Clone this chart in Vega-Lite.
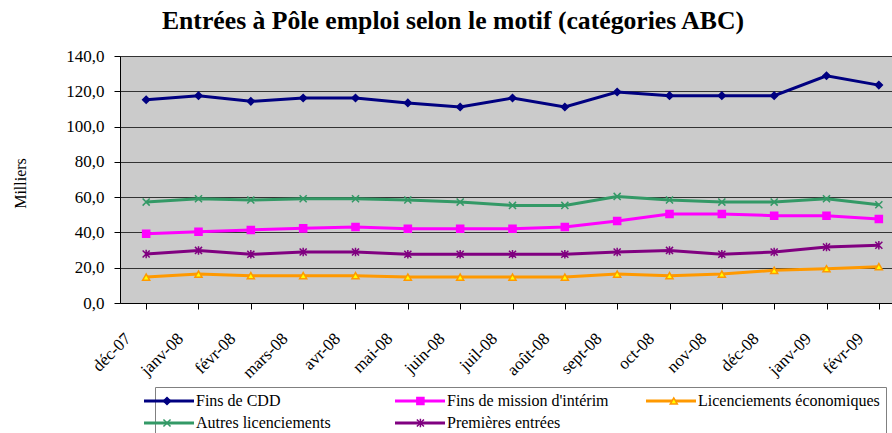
{
  "$schema": "https://vega.github.io/schema/vega-lite/v6.json",
  "autosize": {"type": "none"},
  "width": 772,
  "height": 247,
  "padding": {"left": 120, "top": 56, "right": 0, "bottom": 130},
  "background": "white",
  "title": {
    "text": "Entrées à Pôle emploi selon le motif (catégories ABC)",
    "font": "Liberation Serif",
    "fontSize": 25.7,
    "fontWeight": "bold",
    "color": "black",
    "anchor": "middle",
    "dx": -53,
    "baseline": "alphabetic",
    "offset": -8
  },
  "config": {
    "view": {"fill": "#cbcbcb", "stroke": "#808080", "strokeWidth": 1}
  },
  "data": {
    "values": [
      {"mois": "déc-07", "motif": "Fins de CDD", "symbole": "Fins de CDD", "milliers": 115.2},
      {"mois": "janv-08", "motif": "Fins de CDD", "symbole": "Fins de CDD", "milliers": 117.5},
      {"mois": "févr-08", "motif": "Fins de CDD", "symbole": "Fins de CDD", "milliers": 114.3},
      {"mois": "mars-08", "motif": "Fins de CDD", "symbole": "Fins de CDD", "milliers": 116.2},
      {"mois": "avr-08", "motif": "Fins de CDD", "symbole": "Fins de CDD", "milliers": 116.2},
      {"mois": "mai-08", "motif": "Fins de CDD", "symbole": "Fins de CDD", "milliers": 113.4},
      {"mois": "juin-08", "motif": "Fins de CDD", "symbole": "Fins de CDD", "milliers": 111.1},
      {"mois": "juil-08", "motif": "Fins de CDD", "symbole": "Fins de CDD", "milliers": 116.2},
      {"mois": "août-08", "motif": "Fins de CDD", "symbole": "Fins de CDD", "milliers": 111.1},
      {"mois": "sept-08", "motif": "Fins de CDD", "symbole": "Fins de CDD", "milliers": 119.6},
      {"mois": "oct-08", "motif": "Fins de CDD", "symbole": "Fins de CDD", "milliers": 117.5},
      {"mois": "nov-08", "motif": "Fins de CDD", "symbole": "Fins de CDD", "milliers": 117.5},
      {"mois": "déc-08", "motif": "Fins de CDD", "symbole": "Fins de CDD", "milliers": 117.5},
      {"mois": "janv-09", "motif": "Fins de CDD", "symbole": "Fins de CDD", "milliers": 128.8},
      {"mois": "févr-09", "motif": "Fins de CDD", "symbole": "Fins de CDD", "milliers": 123.5},
      {"mois": "déc-07", "motif": "Fins de mission d'intérim", "symbole": "Fins de mission d'intérim", "milliers": 39.3},
      {"mois": "janv-08", "motif": "Fins de mission d'intérim", "symbole": "Fins de mission d'intérim", "milliers": 40.4},
      {"mois": "févr-08", "motif": "Fins de mission d'intérim", "symbole": "Fins de mission d'intérim", "milliers": 41.4},
      {"mois": "mars-08", "motif": "Fins de mission d'intérim", "symbole": "Fins de mission d'intérim", "milliers": 42.3},
      {"mois": "avr-08", "motif": "Fins de mission d'intérim", "symbole": "Fins de mission d'intérim", "milliers": 43.1},
      {"mois": "mai-08", "motif": "Fins de mission d'intérim", "symbole": "Fins de mission d'intérim", "milliers": 42.1},
      {"mois": "juin-08", "motif": "Fins de mission d'intérim", "symbole": "Fins de mission d'intérim", "milliers": 42.1},
      {"mois": "juil-08", "motif": "Fins de mission d'intérim", "symbole": "Fins de mission d'intérim", "milliers": 42.1},
      {"mois": "août-08", "motif": "Fins de mission d'intérim", "symbole": "Fins de mission d'intérim", "milliers": 43.1},
      {"mois": "sept-08", "motif": "Fins de mission d'intérim", "symbole": "Fins de mission d'intérim", "milliers": 46.5},
      {"mois": "oct-08", "motif": "Fins de mission d'intérim", "symbole": "Fins de mission d'intérim", "milliers": 50.4},
      {"mois": "nov-08", "motif": "Fins de mission d'intérim", "symbole": "Fins de mission d'intérim", "milliers": 50.4},
      {"mois": "déc-08", "motif": "Fins de mission d'intérim", "symbole": "Fins de mission d'intérim", "milliers": 49.5},
      {"mois": "janv-09", "motif": "Fins de mission d'intérim", "symbole": "Fins de mission d'intérim", "milliers": 49.5},
      {"mois": "févr-09", "motif": "Fins de mission d'intérim", "symbole": "Fins de mission d'intérim", "milliers": 47.6},
      {"mois": "déc-07", "motif": "Licenciements économiques", "symbole": "Licenciements économiques", "milliers": 14.7},
      {"mois": "janv-08", "motif": "Licenciements économiques", "symbole": "Licenciements économiques", "milliers": 16.4},
      {"mois": "févr-08", "motif": "Licenciements économiques", "symbole": "Licenciements économiques", "milliers": 15.5},
      {"mois": "mars-08", "motif": "Licenciements économiques", "symbole": "Licenciements économiques", "milliers": 15.5},
      {"mois": "avr-08", "motif": "Licenciements économiques", "symbole": "Licenciements économiques", "milliers": 15.5},
      {"mois": "mai-08", "motif": "Licenciements économiques", "symbole": "Licenciements économiques", "milliers": 14.7},
      {"mois": "juin-08", "motif": "Licenciements économiques", "symbole": "Licenciements économiques", "milliers": 14.7},
      {"mois": "juil-08", "motif": "Licenciements économiques", "symbole": "Licenciements économiques", "milliers": 14.7},
      {"mois": "août-08", "motif": "Licenciements économiques", "symbole": "Licenciements économiques", "milliers": 14.7},
      {"mois": "sept-08", "motif": "Licenciements économiques", "symbole": "Licenciements économiques", "milliers": 16.4},
      {"mois": "oct-08", "motif": "Licenciements économiques", "symbole": "Licenciements économiques", "milliers": 15.5},
      {"mois": "nov-08", "motif": "Licenciements économiques", "symbole": "Licenciements économiques", "milliers": 16.4},
      {"mois": "déc-08", "motif": "Licenciements économiques", "symbole": "Licenciements économiques", "milliers": 18.5},
      {"mois": "janv-09", "motif": "Licenciements économiques", "symbole": "Licenciements économiques", "milliers": 19.4},
      {"mois": "févr-09", "motif": "Licenciements économiques", "symbole": "Licenciements économiques", "milliers": 20.6},
      {"mois": "déc-07", "motif": "Autres licenciements", "symbole": "Autres licenciements", "milliers": 57.2},
      {"mois": "janv-08", "motif": "Autres licenciements", "symbole": "Autres licenciements", "milliers": 59.1},
      {"mois": "févr-08", "motif": "Autres licenciements", "symbole": "Autres licenciements", "milliers": 58.4},
      {"mois": "mars-08", "motif": "Autres licenciements", "symbole": "Autres licenciements", "milliers": 59.1},
      {"mois": "avr-08", "motif": "Autres licenciements", "symbole": "Autres licenciements", "milliers": 59.1},
      {"mois": "mai-08", "motif": "Autres licenciements", "symbole": "Autres licenciements", "milliers": 58.4},
      {"mois": "juin-08", "motif": "Autres licenciements", "symbole": "Autres licenciements", "milliers": 57.2},
      {"mois": "juil-08", "motif": "Autres licenciements", "symbole": "Autres licenciements", "milliers": 55.3},
      {"mois": "août-08", "motif": "Autres licenciements", "symbole": "Autres licenciements", "milliers": 55.3},
      {"mois": "sept-08", "motif": "Autres licenciements", "symbole": "Autres licenciements", "milliers": 60.4},
      {"mois": "oct-08", "motif": "Autres licenciements", "symbole": "Autres licenciements", "milliers": 58.4},
      {"mois": "nov-08", "motif": "Autres licenciements", "symbole": "Autres licenciements", "milliers": 57.2},
      {"mois": "déc-08", "motif": "Autres licenciements", "symbole": "Autres licenciements", "milliers": 57.2},
      {"mois": "janv-09", "motif": "Autres licenciements", "symbole": "Autres licenciements", "milliers": 59.1},
      {"mois": "févr-09", "motif": "Autres licenciements", "symbole": "Autres licenciements", "milliers": 55.7},
      {"mois": "déc-07", "motif": "Premières entrées", "symbole": "Premières entrées", "milliers": 27.8},
      {"mois": "janv-08", "motif": "Premières entrées", "symbole": "Premières entrées", "milliers": 29.8},
      {"mois": "févr-08", "motif": "Premières entrées", "symbole": "Premières entrées", "milliers": 27.6},
      {"mois": "mars-08", "motif": "Premières entrées", "symbole": "Premières entrées", "milliers": 28.9},
      {"mois": "avr-08", "motif": "Premières entrées", "symbole": "Premières entrées", "milliers": 28.9},
      {"mois": "mai-08", "motif": "Premières entrées", "symbole": "Premières entrées", "milliers": 27.6},
      {"mois": "juin-08", "motif": "Premières entrées", "symbole": "Premières entrées", "milliers": 27.6},
      {"mois": "juil-08", "motif": "Premières entrées", "symbole": "Premières entrées", "milliers": 27.6},
      {"mois": "août-08", "motif": "Premières entrées", "symbole": "Premières entrées", "milliers": 27.6},
      {"mois": "sept-08", "motif": "Premières entrées", "symbole": "Premières entrées", "milliers": 28.9},
      {"mois": "oct-08", "motif": "Premières entrées", "symbole": "Premières entrées", "milliers": 29.8},
      {"mois": "nov-08", "motif": "Premières entrées", "symbole": "Premières entrées", "milliers": 27.6},
      {"mois": "déc-08", "motif": "Premières entrées", "symbole": "Premières entrées", "milliers": 28.9},
      {"mois": "janv-09", "motif": "Premières entrées", "symbole": "Premières entrées", "milliers": 31.7},
      {"mois": "févr-09", "motif": "Premières entrées", "symbole": "Premières entrées", "milliers": 32.7}
    ]
  },
  "encoding": {
    "x": {
      "field": "mois",
      "type": "nominal",
      "sort": null,
      "scale": {
        "domain": ["déc-07", "janv-08", "févr-08", "mars-08", "avr-08", "mai-08", "juin-08", "juil-08", "août-08", "sept-08", "oct-08", "nov-08", "déc-08", "janv-09", "févr-09"],
        "range": [0, 785],
        "paddingInner": 0,
        "paddingOuter": 0
      },
      "axis": {
        "title": null,
        "bandPosition": 0,
        "labelAngle": -45,
        "labelFont": "Liberation Serif",
        "labelFontSize": 17,
        "labelColor": "black",
        "labelPadding": 21,
        "labelOffset": -24,
        "domainColor": "black",
        "domainWidth": 1,
        "tickColor": "black",
        "tickSize": 6,
        "grid": false
      }
    },
    "y": {
      "field": "milliers",
      "type": "quantitative",
      "scale": {"domain": [0, 140], "nice": false, "zero": true},
      "axis": {
        "values": [0, 20, 40, 60, 80, 100, 120, 140],
        "labelExpr": "replace(format(datum.value, '.1f'), '.', ',')",
        "labelFont": "Liberation Serif",
        "labelFontSize": 17,
        "labelColor": "black",
        "labelPadding": 10,
        "domainColor": "black",
        "tickColor": "black",
        "tickSize": 6,
        "grid": true,
        "gridColor": "#333333",
        "gridWidth": 1,
        "title": "Milliers",
        "titleFont": "Liberation Serif",
        "titleFontSize": 16,
        "titleFontWeight": "normal",
        "titleColor": "black",
        "titleX": -100,
        "titleY": 127,
        "titleAlign": "center",
        "titleBaseline": "middle",
        "titleAngle": -90
      }
    }
  },
  "layer": [
    {
      "mark": {"type": "line", "strokeWidth": 3},
      "encoding": {
        "color": {
          "field": "motif",
          "type": "nominal",
          "sort": ["Fins de CDD", "Fins de mission d'intérim", "Licenciements économiques", "Autres licenciements", "Premières entrées"],
          "scale": {
            "range": ["#000080", "#FF00FF", "#FF9900", "#339966", "#800080"]
          },
          "legend": {
            "orient": "none",
            "legendX": 35,
            "legendY": 331,
            "direction": "horizontal",
            "columns": 3,
            "title": null,
            "gridAlign": "all",
            "symbolType": "M-5,0H5",
            "symbolSize": 100,
            "symbolStrokeWidth": 3,
            "labelFont": "Liberation Serif",
            "labelFontSize": 16,
            "labelColor": "black",
            "labelLimit": 400,
            "labelOffset": 19,
            "columnPadding": 11,
            "rowPadding": 6,
            "padding": 6,
            "strokeColor": "#808080",
            "encode": {
              "symbols": {
                "update": {
                  "stroke": {"scale": "color", "field": "value"},
                  "fill": {"value": "transparent"},
                  "strokeWidth": {"value": 3}
                }
              }
            }
          }
        }
      }
    },
    {
      "mark": {"type": "point", "filled": false, "strokeWidth": 1.5, "opacity": 1, "fillOpacity": 1},
      "encoding": {
        "shape": {
          "field": "symbole",
          "type": "nominal",
          "scale": {
            "domain": ["Fins de CDD", "Fins de mission d'intérim", "Licenciements économiques", "Autres licenciements", "Premières entrées"],
            "range": ["diamond", "square", "triangle-up", "M-1,-1L1,1M-1,1L1,-1", "M-1,-1L1,1M-1,1L1,-1M0,-1.2L0,1.2"]
          },
          "legend": {
            "orient": "none",
            "legendX": 33,
            "legendY": 331,
            "direction": "horizontal",
            "columns": 3,
            "title": null,
            "gridAlign": "all",
            "symbolSize": 50,
            "symbolStrokeWidth": 1.5,
            "labelFont": "Liberation Serif",
            "labelFontSize": 16,
            "labelExpr": "''",
            "labelOffset": 0,
            "columnPadding": 237.4,
            "rowPadding": 6,
            "padding": 6,
            "zindex": 1
          }
        },
        "fill": {
          "field": "symbole",
          "type": "nominal",
          "scale": {
            "domain": ["Fins de CDD", "Fins de mission d'intérim", "Licenciements économiques", "Autres licenciements", "Premières entrées"],
            "range": ["#000080", "#FF00FF", "#FFFF00", "#339966", "#800080"]
          },
          "legend": {
            "orient": "none",
            "legendX": 33,
            "legendY": 331,
            "direction": "horizontal",
            "columns": 3,
            "title": null,
            "gridAlign": "all",
            "symbolSize": 50,
            "symbolStrokeWidth": 1.5,
            "labelFont": "Liberation Serif",
            "labelFontSize": 16,
            "labelExpr": "''",
            "labelOffset": 0,
            "columnPadding": 237.4,
            "rowPadding": 6,
            "padding": 6,
            "zindex": 1
          }
        },
        "stroke": {
          "field": "symbole",
          "type": "nominal",
          "scale": {
            "domain": ["Fins de CDD", "Fins de mission d'intérim", "Licenciements économiques", "Autres licenciements", "Premières entrées"],
            "range": ["#000080", "#FF00FF", "#FF9900", "#339966", "#800080"]
          },
          "legend": {
            "orient": "none",
            "legendX": 33,
            "legendY": 331,
            "direction": "horizontal",
            "columns": 3,
            "title": null,
            "gridAlign": "all",
            "symbolSize": 50,
            "symbolStrokeWidth": 1.5,
            "labelFont": "Liberation Serif",
            "labelFontSize": 16,
            "labelExpr": "''",
            "labelOffset": 0,
            "columnPadding": 237.4,
            "rowPadding": 6,
            "padding": 6,
            "zindex": 1
          }
        },
        "size": {"value": 50}
      }
    }
  ]
}
